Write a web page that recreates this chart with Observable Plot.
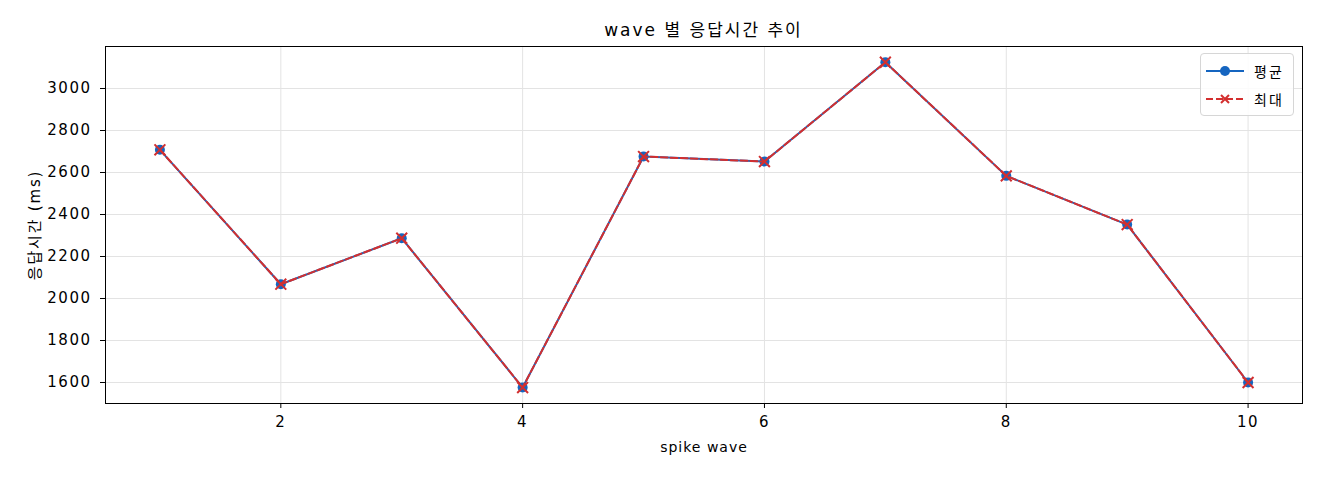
<!DOCTYPE html>
<html>
<head>
<meta charset="utf-8">
<script src="https://cdn.jsdelivr.net/npm/d3@7"></script>
<script src="https://cdn.jsdelivr.net/npm/@observablehq/plot@0.6"></script>
<style>
  html, body { margin: 0; padding: 0; background: #fff; }
  #wrap { position: relative; width: 1320px; height: 480px; font-family: 'DejaVu Sans', 'Noto Sans CJK KR', sans-serif; }
  #title { position: absolute; left: 105px; width: 1197px; top: 16px; text-align: center; font-size: 17px; letter-spacing: 2px; color: #000; }
  #legend { position: absolute; left: 1200px; top: 53px; width: 94px; height: 63px; box-sizing: border-box;
            border: 1px solid #d6d6d6; border-radius: 4px; background: rgba(255,255,255,0.85); font-size: 14px; letter-spacing: 2px; }
  .row { position: absolute; left: 5px; height: 20px; display: flex; align-items: center; }
  .row span { margin-left: 10px; }
  svg g[aria-label="y-axis tick label"] text,
  svg g[aria-label="x-axis tick label"] text { letter-spacing: 1.5px; }
  svg g[aria-label="x-axis label"] text { letter-spacing: 1px; }
  svg g[aria-label="y-axis label"] text { letter-spacing: 1.8px; }
</style>
</head>
<body>
<div id="wrap">
  <div id="chart"></div>
  <div id="title">wave 별 응답시간 추이</div>
  <div id="legend">
    <div class="row" style="top:7px">
      <svg width="38" height="20"><line x1="0" y1="10" x2="38" y2="10" stroke="#1565C0" stroke-width="2"/><circle cx="19" cy="10" r="5" fill="#1565C0"/></svg>
      <span>평균</span>
    </div>
    <div class="row" style="top:35px">
      <svg width="38" height="20"><line x1="0" y1="10" x2="38" y2="10" stroke="#D32F2F" stroke-width="2" stroke-dasharray="7,3"/><path d="M15,6L23,14M23,6L15,14" stroke="#D32F2F" stroke-width="2"/></svg>
      <span>최대</span>
    </div>
  </div>
</div>
<script>
const waves = [1, 2, 3, 4, 5, 6, 7, 8, 9, 10];
const avgMs = [2708, 2068, 2287, 1576, 2676, 2652, 3125, 2584, 2352, 1600];
const maxMs = [2708, 2068, 2287, 1576, 2676, 2652, 3125, 2584, 2352, 1600];
const xTicks = [2, 4, 6, 8, 10];
const yTicks = [1600, 1800, 2000, 2200, 2400, 2600, 2800, 3000];

const avgData = waves.map((w, i) => ({wave: w, ms: avgMs[i]}));
const maxData = waves.map((w, i) => ({wave: w, ms: maxMs[i]}));

const blue = "#1565C0";
const red = "#D32F2F";

const chart = Plot.plot({
  width: 1320,
  height: 480,
  marginLeft: 105,
  marginRight: 18,
  marginTop: 46,
  marginBottom: 77,
  style: {fontFamily: "'DejaVu Sans', 'Noto Sans CJK KR', sans-serif", fontSize: "15px", color: "#000", background: "#fff"},
  x: {domain: [0.55, 10.45]},
  y: {domain: [1500, 3200]},
  marks: [
    Plot.gridX(xTicks, {stroke: "#e3e3e3", strokeOpacity: 1}),
    Plot.gridY(yTicks, {stroke: "#e3e3e3", strokeOpacity: 1}),
    Plot.axisX({ticks: xTicks, tickSize: 5, tickPadding: 8, fontSize: 15, label: null}),
    Plot.axisX({ticks: [], tickSize: 0, fontSize: 14, label: "spike wave", labelAnchor: "center", labelArrow: "none", labelOffset: 48}),
    Plot.axisY({ticks: yTicks, tickSize: 5, tickPadding: 9, fontSize: 15, tickFormat: d => String(d), label: null}),
    Plot.axisY({ticks: [], tickSize: 0, fontSize: 15, label: "응답시간 (ms)", labelAnchor: "center", labelArrow: "none", labelOffset: 76}),
    Plot.line(avgData, {x: "wave", y: "ms", stroke: blue, strokeWidth: 2}),
    Plot.dot(avgData, {x: "wave", y: "ms", r: 5, fill: blue}),
    Plot.line(maxData, {x: "wave", y: "ms", stroke: red, strokeWidth: 2, strokeDasharray: "7,3"}),
    Plot.dot(maxData, {x: "wave", y: "ms", symbol: "times", r: 5, stroke: red, strokeWidth: 2}),
    Plot.frame({stroke: "#000", strokeWidth: 1})
  ]
});
document.getElementById("chart").appendChild(chart);
</script>
</body>
</html>
